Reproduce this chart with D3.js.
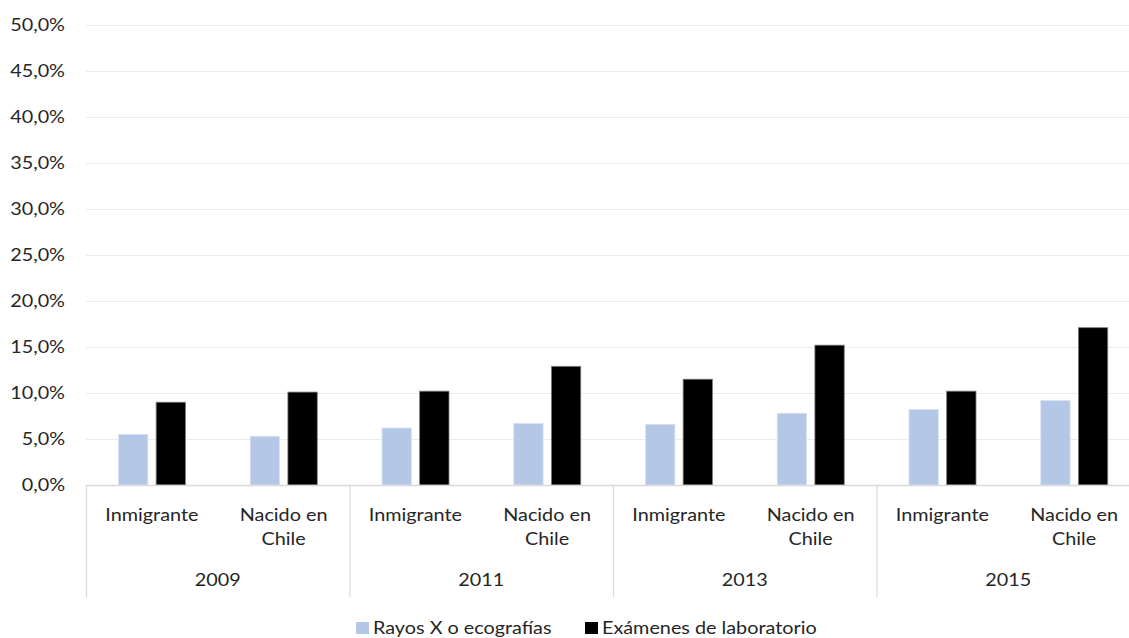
<!DOCTYPE html>
<html><head><meta charset="utf-8">
<script src="https://cdn.jsdelivr.net/npm/d3@7"></script>
<style>body{margin:0;background:#fff}svg{display:block;font-family:Lato,"Open Sans",sans-serif}</style>
</head><body><svg id="c" width="1129" height="638"></svg>
<script>
const years = ["2009","2011","2013","2015"];
const groups = ["Inmigrante","Nacido en Chile"];
const seriesNames = ["Rayos X o ecografías","Exámenes de laboratorio"];
const rayosX = [5.5, 5.3, 6.2, 6.7, 6.6, 7.8, 8.2, 9.2];
const laboratorio = [9.0, 10.1, 10.2, 12.9, 11.5, 15.2, 10.2, 17.1];
const yTicks = [0,5,10,15,20,25,30,35,40,45,50];
const colors = ["#b4c7e7","#000000"];

const svg = d3.select("#c");
const pLeft = 86, pRight = 1140, pTop = 25, pBottom = 485;
const FS = 16.5, SX = 1.2, TXT = "#262626";
const cats = [];
years.forEach(yr => groups.forEach(g => cats.push(yr + "|" + g)));
const x = d3.scaleBand().domain(cats).range([pLeft, pRight]);
const xYear = d3.scaleBand().domain(years).range([pLeft, pRight]);
const xs = d3.scaleBand().domain(seriesNames).range([32.5, 99.5]).paddingInner(0.22);
const y = d3.scaleLinear().domain([0, 50]).range([pBottom, pTop]);

function label(sel, tx, ty, anchor, str) {
  return sel.append("text").attr("transform", `translate(${tx},${ty}) scale(${SX},1)`)
    .attr("text-anchor", anchor).attr("font-size", FS).attr("fill", TXT).text(str);
}

// gridlines
svg.append("g").selectAll("line").data(yTicks.filter(d => d > 0)).join("line")
  .attr("x1", pLeft).attr("x2", pRight).attr("y1", d => Math.round(y(d)) + 0.5).attr("y2", d => Math.round(y(d)) + 0.5)
  .attr("stroke", "#ebebeb").attr("stroke-width", 1.2);

// y labels
const yl = svg.append("g");
yTicks.forEach(d => label(yl, 65, y(d) + 6, "end", d.toFixed(1).replace(".", ",") + "%"));

// bars
const data = [];
cats.forEach((c, i) => {
  data.push({c, s: seriesNames[0], v: rayosX[i], k: 0});
  data.push({c, s: seriesNames[1], v: laboratorio[i], k: 1});
});
svg.append("g").selectAll("rect").data(data).join("rect")
  .attr("x", d => x(d.c) + xs(d.s)).attr("width", xs.bandwidth())
  .attr("y", d => y(d.v)).attr("height", d => y(0) - y(d.v))
  .attr("fill", d => colors[d.k])
  .attr("stroke", d => d.k ? "#7f7f7f" : "#dae3f3").attr("stroke-width", 0.8);

// baseline
svg.append("line").attr("x1", pLeft).attr("x2", pRight).attr("y1", pBottom + 0.5).attr("y2", pBottom + 0.5)
  .attr("stroke", "#d9d9d9").attr("stroke-width", 1.5);

// year separators
svg.append("g").selectAll("line").data(years.concat(["end"])).join("line")
  .attr("x1", (d, i) => pLeft + i * xYear.bandwidth() + 0.5)
  .attr("x2", (d, i) => pLeft + i * xYear.bandwidth() + 0.5)
  .attr("y1", pBottom).attr("y2", 597)
  .attr("stroke", "#d9d9d9").attr("stroke-width", 1.2);

// category labels
const catG = svg.append("g");
cats.forEach(c => {
  const g = c.split("|")[1];
  const cx = x(c) + x.bandwidth() / 2;
  if (g === "Inmigrante") {
    label(catG, cx, 521, "middle", g);
  } else {
    label(catG, cx, 521, "middle", "Nacido en");
    label(catG, cx, 545, "middle", "Chile");
  }
});

// year labels
const yrG = svg.append("g");
years.forEach(d => label(yrG, xYear(d) + xYear.bandwidth() / 2, 586, "middle", d));

// legend
const leg = svg.append("g");
const legX = [356, 585];
seriesNames.forEach((s, i) => {
  leg.append("rect").attr("x", legX[i]).attr("y", 622).attr("width", 13).attr("height", 12).attr("fill", colors[i]);
  label(leg, legX[i] + 17, 634, "start", s);
});
</script></body></html>
